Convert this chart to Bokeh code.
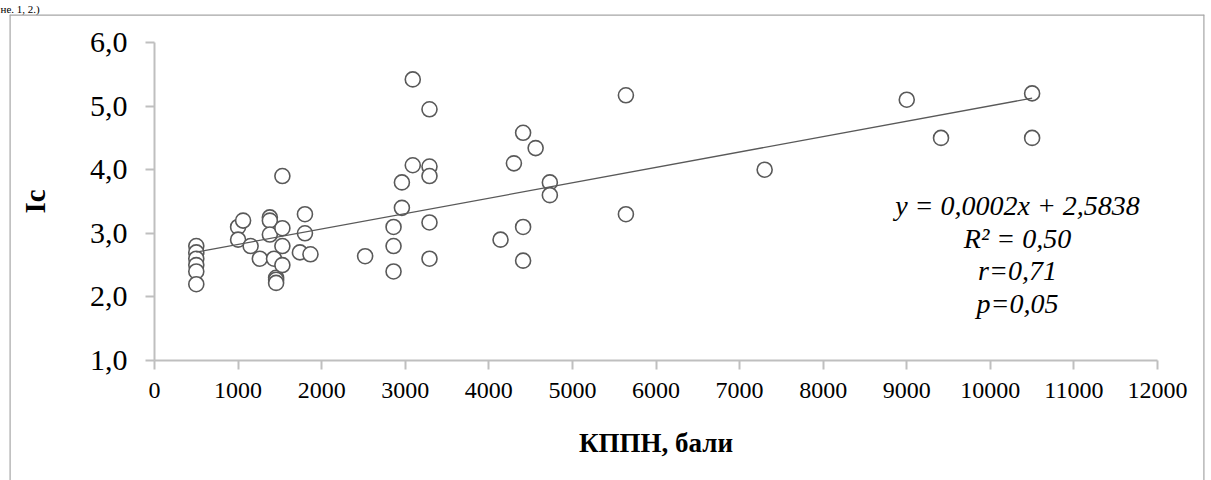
from bokeh.plotting import figure
from bokeh.models import FixedTicker, Label, Span, Range1d
from bokeh.embed import file_html
from bokeh.resources import INLINE

# ---- data ----
kppn = [500, 500, 500, 500, 500, 500,
        1000, 1000, 1060, 1150, 1260,
        1380, 1380, 1380, 1430, 1455, 1455, 1455,
        1530, 1530, 1530, 1530, 1740, 1800, 1800, 1866,
        2520, 2860, 2860, 2860, 2960, 2960, 3090, 3090,
        3290, 3290, 3290, 3290, 3290,
        4140, 4300, 4410, 4410, 4410, 4560, 4730, 4730,
        5640, 5640, 7300, 9000, 9410, 10500, 10500]
ic = [2.8, 2.7, 2.6, 2.5, 2.4, 2.2,
      3.1, 2.9, 3.2, 2.8, 2.6,
      3.25, 3.2, 2.98, 2.6, 2.3, 2.27, 2.22,
      3.9, 3.08, 2.8, 2.5, 2.7, 3.3, 3.0, 2.67,
      2.64, 3.1, 2.8, 2.4, 3.8, 3.4, 5.42, 4.07,
      4.95, 4.05, 3.9, 3.17, 2.6,
      2.9, 4.1, 4.58, 3.1, 2.57, 4.34, 3.8, 3.6,
      5.17, 3.3, 4.0, 5.1, 4.5, 5.2, 4.5]

trend_slope = 0.000242
trend_intercept = 2.5838

x_ticks = [0, 1000, 2000, 3000, 4000, 5000, 6000, 7000, 8000, 9000, 10000, 11000, 12000]
x_tick_labels = [str(t) for t in x_ticks]
y_ticks = [1, 2, 3, 4, 5, 6]
y_tick_labels = ["1,0", "2,0", "3,0", "4,0", "5,0", "6,0"]

stats_lines = ["y = 0,0002x + 2,5838", "R² = 0,50", "r=0,71", "p=0,05"]
x_title = "КППН, бали"
y_title = "Ic"
top_fragment = "не. 1, 2.)"

FONT = "Liberation Serif"
AXIS_GREY = "#bfbfbf"
BORDER_GREY = "#a6a6a6"
MARK = "#595959"

# ---- layout: the frame is the whole bordered chart area ----
W, H = 1211, 480
FL, FR, FT, FB = 9, 1204, 14, 480          # frame (chart border) in canvas px
AX_L, AX_R = 154, 1157                       # pixels of x = 0 and x = 12000
AX_B, AX_T = 360, 42                         # pixels of y = 1 and y = 6
xpp = 12000 / (AX_R - AX_L)
ypp = 5 / (AX_B - AX_T)
x_rng = Range1d(0 - (AX_L - FL) * xpp, 12000 + (FR - AX_R) * xpp)
y_rng = Range1d(1 - (FB - AX_B) * ypp, 6 + (AX_T - FT) * ypp)

p = figure(width=W, height=H, x_range=x_rng, y_range=y_rng,
           output_backend="svg", toolbar_location=None,
           min_border_left=FL, min_border_right=W - FR,
           min_border_top=0, min_border_bottom=0)
p.grid.visible = False
p.outline_line_color = None
p.background_fill_color = "white"
p.border_fill_color = "white"

# fragment of the document text above the chart
p.title.text = top_fragment
p.title.align = "left"
p.title.text_font = FONT
p.title.text_font_style = "normal"
p.title.text_font_size = "11px"
p.title.text_color = "black"
p.title.standoff = 0
p.title.offset = -9

# axes, pinned at the data origin
p.xaxis.fixed_location = 1
p.yaxis.fixed_location = 0
p.xaxis.bounds = (0, 12000)
p.yaxis.bounds = (1, 6)
p.xaxis.ticker = FixedTicker(ticks=x_ticks)
p.xaxis.major_label_overrides = {t: l for t, l in zip(x_ticks, x_tick_labels)}
p.yaxis.ticker = FixedTicker(ticks=y_ticks)
p.yaxis.major_label_overrides = {t: l for t, l in zip(y_ticks, y_tick_labels)}
for ax in (p.xaxis, p.yaxis):
    ax.axis_line_color = AXIS_GREY
    ax.axis_line_width = 2
    ax.major_tick_line_color = AXIS_GREY
    ax.major_tick_line_width = 2
    ax.major_tick_in = 0
    ax.major_tick_out = 9
    ax.minor_tick_line_color = None
    ax.major_label_text_font = FONT
    ax.major_label_text_color = "black"
    ax.axis_label_text_font = FONT
    ax.axis_label_text_font_style = "bold"
    ax.axis_label_text_color = "black"

p.xaxis.major_label_text_font_size = "24px"
p.xaxis.major_label_standoff = 13
p.xaxis.axis_label = x_title
p.xaxis.axis_label_text_font_size = "27px"
p.xaxis.axis_label_standoff = 27

p.yaxis.major_label_text_font_size = "30px"
p.yaxis.major_label_standoff = 18
p.yaxis.axis_label = y_title
p.yaxis.axis_label_text_font_size = "29px"
p.yaxis.axis_label_standoff = 36

# chart border (left, top, right); the bottom edge is below the window
for loc, dim in ((x_rng.start, "height"), (x_rng.end, "height"), (y_rng.end, "width")):
    p.add_layout(Span(location=loc, dimension=dim, line_color=BORDER_GREY, line_width=2.4))

# points
p.scatter(kppn, ic, marker="circle", size=15, fill_color="white",
          line_color=MARK, line_width=1.6)

# trend line
x0, x1 = min(kppn), max(kppn)
p.line([x0, x1], [trend_intercept + trend_slope * x0, trend_intercept + trend_slope * x1],
       line_color=MARK, line_width=1.3)

# stats text (canvas position, y measured from the top)
stats_y = [205, 237.5, 270, 302.5]
for s, yy in zip(stats_lines, stats_y):
    p.add_layout(Label(x=1017, y=yy, x_units="canvas", y_units="canvas", text=s,
                       text_align="center", text_baseline="middle", text_font=FONT,
                       text_font_style="italic", text_font_size="28px",
                       text_color="black"))

open("out.html", "w").write(file_html(p, INLINE))
